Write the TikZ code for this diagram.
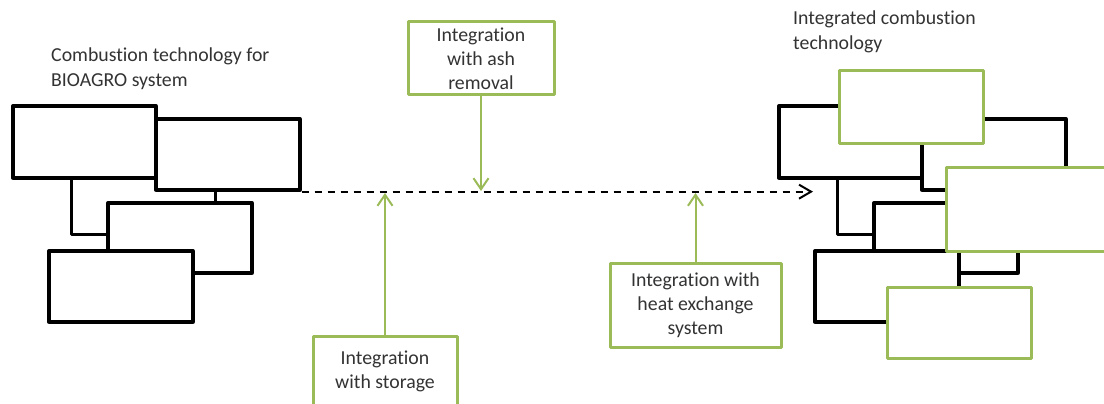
\documentclass[tikz,border=0pt]{standalone}
\usepackage{fontspec}
\setmainfont[Ligatures=NoCommon]{Carlito}
\usetikzlibrary{arrows.meta}
\definecolor{olive}{HTML}{9BBB59}
\definecolor{txt}{HTML}{333333}
\tikzset{
  blk/.style={draw=black, line width=3.3pt, fill=white, rectangle, inner sep=0pt, line join=round},
  grn/.style={draw=olive, line width=3pt, fill=white, rectangle, inner sep=0pt, line join=round,
    text=txt, align=center, font=\fontsize{19.8}{24}\selectfont},
  conn/.style={draw=black, line width=3.3pt, line join=round},
  garrow/.style={draw=olive, line width=2pt, -{Straight Barb[length=11pt,width=15pt,line width=2pt]}},
  darrow/.style={draw=black, line width=2pt, dash pattern=on 7pt off 6pt,
    -{Straight Barb[length=12pt,width=14pt,line width=2pt,sep=0pt]}},
  title/.style={text=txt, align=left, inner sep=0pt, font=\fontsize{19.8}{24.5}\selectfont},
}
\begin{document}
\begin{tikzpicture}[x=1pt,y=-1pt]
\useasboundingbox (0,0) rectangle (1104,404);
\clip (0,0) rectangle (1104,404);
\fill[white] (0,0) rectangle (1104,404);

% titles
\node[title, anchor=west] (t1) at (51,68.5) {Combustion technology for\\BIOAGRO system};
\node[title, anchor=west] (t2) at (793,32) {Integrated combustion\\technology};

% left cluster
\node[blk, minimum width=143pt, minimum height=72pt] (A) at (84.5,142) {};
\node[blk, minimum width=144pt, minimum height=71pt] (B) at (228,154.5) {};
\node[blk, minimum width=144pt, minimum height=70pt] (C) at (180,238) {};
\draw[conn] ([xshift=60pt]A.south west) |- ([yshift=-33pt]C.north west);
\draw[conn] ([xshift=61pt]B.south west) coordinate (bc) -- (bc |- C.north);
\node[blk, minimum width=144pt, minimum height=71pt] (D) at (121,286.5) {};

% right cluster (black)
\node[blk, minimum width=143pt, minimum height=72pt] (E) at (850.5,142) {};
\node[blk, minimum width=144pt, minimum height=71pt] (F) at (994,154.5) {};
\node[blk, minimum width=144pt, minimum height=70pt] (G) at (946,238) {};
\draw[conn] ([xshift=60pt]E.south west) |- ([yshift=-33pt]G.north west);
\draw[conn] ([xshift=61pt]F.south west) coordinate (fg) -- (fg |- G.north);
\node[blk, minimum width=144pt, minimum height=71pt] (H) at (887,286.5) {};

% right cluster (green)
\node[grn, minimum width=144pt, minimum height=72pt] (G1) at (911,107) {};
\node[grn, minimum width=160pt, minimum height=84pt] (G2) at (1026,209) {};
\node[grn, minimum width=144pt, minimum height=71pt] (G3) at (959,322.5) {};

% dashed main arrow
\coordinate (tip) at (813,191);
\draw[darrow] (B.south east) -- (tip |- B.south east);

% integration boxes
\node[grn, minimum width=146pt, minimum height=73pt] (ash) at (481,58.5) {Integration\\with ash\\removal};
\node[grn, minimum width=144pt, minimum height=85pt, anchor=north] (stor) at (385,335) {};
\node[text=txt, align=center, font=\fontsize{19.8}{24}\selectfont, inner sep=0pt] (stortxt) at (385,371) {Integration\\with storage};
\node[grn, minimum width=171pt, minimum height=84pt] (heat) at (695.5,305) {Integration with\\heat exchange\\system};

% green arrows
\coordinate (pa) at (481,191);
\coordinate (ps) at (385,193);
\coordinate (ph) at (695.5,193);
\draw[garrow] (ash.south) -- (pa);
\draw[garrow] (stor.north) -- (ps);
\draw[garrow] (heat.north) -- (ph);
\end{tikzpicture}
\end{document}
